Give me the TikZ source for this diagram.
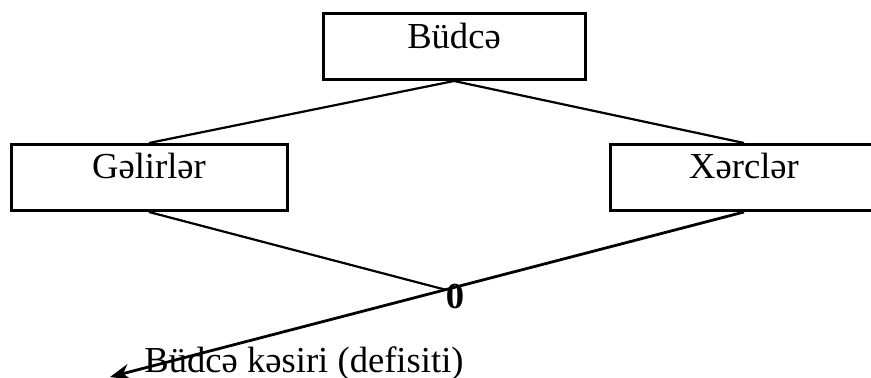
\documentclass[tikz,border=0pt]{standalone}
\usepackage{fontspec}
\setmainfont{Liberation Serif}
\usetikzlibrary{arrows.meta,calc}

\tikzset{
  blok/.style={draw, line width=1.5pt, inner sep=0pt, font=\fontsize{18.3}{22}\selectfont},
  yazi/.style={inner sep=0pt, font=\fontsize{18.3}{22}\selectfont},
  xett/.style={line width=1.1pt}
}

\begin{document}
\begin{tikzpicture}[x=0.5pt, y=-0.5pt]
            \useasboundingbox (0,0) rectangle (871,378);
            \node[blok, anchor=north, minimum width=131pt, text height=17.5pt, text depth=15.5pt] (budce) at (454,12) {Büdcə};
            \node[blok, anchor=north, minimum width=138pt, text height=17pt, text depth=16pt] (gelir) at (149,143) {Gəlirlər};
            \node[blok, anchor=north, minimum width=134pt, text height=17pt, text depth=16pt] (xerc) at (744,143) {Xərclər};

            \coordinate (ucu) at (110,377);
            \coordinate (kes) at ($(xerc.south)!0.471!(ucu)$);

            \draw[xett] (budce.south) -- (gelir.north);
            \draw[xett] (budce.south) -- (xerc.north);
            \draw[xett] (gelir.south) -- (kes);
            \draw[xett, line width=1.4pt, -{Stealth[length=10pt, width=8pt]}] (xerc.south) -- (ucu);

            \node[yazi, anchor=base, font=\fontsize{18.3}{22}\selectfont\bfseries] (sifir) at (455,309) {0};
            \node[yazi, anchor=base] (kesir) at (304,372) {Büdcə kəsiri (defisiti)};
        \end{tikzpicture}
\end{document}
